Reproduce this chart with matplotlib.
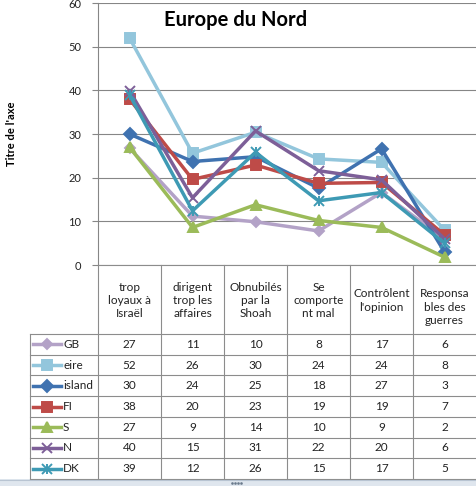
import numpy as np
import matplotlib
matplotlib.use("Agg")
import matplotlib.pyplot as plt

plt.rcParams['font.family'] = ['Lato', 'DejaVu Sans']

categories = ["trop\nloyaux à\nIsraël", "dirigent\ntrop les\naffaires", "Obnubilés\npar la\nShoah",
              "Se\ncomporte\nnt mal", "Contrôlent\nl'opinion", "\nResponsa\nbles des\nguerres"]
countries = ["GB", "eire", "island", "FI", "S", "N", "DK"]

# plotted values (table shows them rounded)
gb = [26.8, 11.2, 9.9, 7.8, 16.6, 6.0]
eire = [52.0, 25.6, 30.4, 24.3, 23.5, 8.0]
island = [30.0, 23.7, 24.8, 17.6, 26.6, 3.0]
fi = [38.0, 19.6, 22.9, 18.7, 18.9, 6.9]
s = [27.0, 8.6, 13.8, 10.2, 8.6, 1.8]
n = [39.9, 15.4, 30.7, 21.6, 19.5, 6.0]
dk = [39.0, 12.4, 25.8, 14.7, 16.6, 5.0]
series = [gb, eire, island, fi, s, n, dk]

colors = ["#B3A2C7", "#93C6DC", "#3F72B0", "#BE4B48", "#9BBB59", "#7D5F98", "#3E9AB4"]
markers = ["D", "s", "D", "s", "^", "x", "x"]
msizes = [5, 7.5, 6, 7.5, 7, 7.5, 7.5]

W, H = 476, 486
fig = plt.figure(figsize=(W / 100, H / 100), dpi=100)
fig.patch.set_facecolor("white")

# plot area in pixels
x0, x1, ytop, ybot = 98, 476, 3, 265
ax = fig.add_axes([x0 / W, (H - ybot) / H, (x1 - x0) / W, (ybot - ytop) / H])
ax.set_xlim(0, 6)
ax.set_ylim(0, 60)
ax.set_yticks(range(0, 61, 10))
ax.set_xticks([])
ax.grid(axis="y", color="#868686", lw=0.8)
ax.set_axisbelow(True)
for sp in ["top", "right", "bottom"]:
    ax.spines[sp].set_visible(False)
ax.spines["left"].set_color("#868686")
ax.tick_params(axis="y", length=4, color="#868686", labelsize=8, pad=8, labelcolor="#222222")

xs = np.arange(6) + 0.5
for vals, c, m, ms in zip(series, colors, markers, msizes):
    ax.plot(xs, vals, color=c, lw=2.5, marker=m, ms=ms, mec=c, mfc=c, mew=1.4, clip_on=False, zorder=3)
# DK asterisk: add vertical stroke
ax.plot(xs, dk, ls="none", marker="|", ms=7.5, color=colors[6], mew=1.4, clip_on=False, zorder=3)

fig.text(236 / W, 1 - 20 / H, "Europe du Nord", ha="center", va="center",
         fontsize=14.5, fontweight="bold")
fig.text(12 / W, 1 - 134 / H, "Titre de l'axe", rotation=90, ha="center", va="center",
         fontsize=8, fontweight="bold")

# data table drawn in pixel space
tb = fig.add_axes([0, 0, 1, 1])
tb.set_xlim(0, W)
tb.set_ylim(H, 0)
tb.axis("off")

lc = "#8c8c8c"
col_w = (x1 - x0) / 6
hdr_bot = 334
row_h = (479 - hdr_bot) / 7
for i in range(6):
    xv = x0 + i * col_w
    tb.plot([xv, xv], [ybot, 479], color=lc, lw=0.8)
tb.plot([30, 30], [hdr_bot, 479], color=lc, lw=0.8)
tb.plot([x0, x1], [ybot, ybot], color=lc, lw=0.8)
for r in range(8):
    yh = hdr_bot + r * row_h
    tb.plot([30, x1], [yh, yh], color=lc, lw=0.8)

for i, cat in enumerate(categories):
    tb.text(x0 + (i + 0.5) * col_w, (ybot + hdr_bot) / 2 + 1, cat, ha="center", va="center",
            fontsize=8.5, linespacing=1.25, color="#222222")

for r, (name, vals) in enumerate(zip(countries, series)):
    yc = hdr_bot + (r + 0.5) * row_h
    c = colors[r]
    tb.plot([33, 61], [yc, yc], color=c, lw=2.5)
    tb.plot([47], [yc], marker=markers[r], ms=msizes[r], color=c, mew=1.4)
    if name == "DK":
        tb.plot([47], [yc], marker="|", ms=7.5, color=c, mew=1.4)
    tb.text(63, yc, name, ha="left", va="center", fontsize=8.5, color="#222222")
    for i, v in enumerate(vals):
        tb.text(x0 + (i + 0.5) * col_w, yc, "%.0f" % v, ha="center", va="center",
                fontsize=8.5, color="#222222")

# bottom splitter bar
tb.add_patch(plt.Rectangle((0, 479), W, 7, facecolor="#dfe6ee", edgecolor="none"))
tb.plot([0, W], [479.5, 479.5], color="#b8c4d2", lw=0.8)
tb.plot([232, 235, 238, 241], [483] * 4, ls="none", marker="s", ms=0.8, color="#6a7a8c")

fig.savefig("out.png", dpi=100, facecolor="white")
